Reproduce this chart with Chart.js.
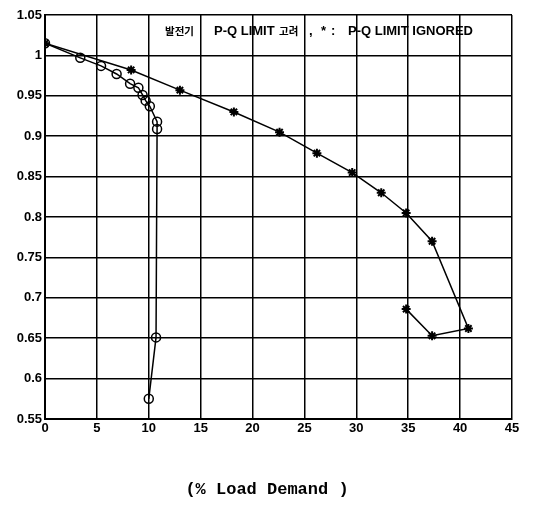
<!DOCTYPE html>
<html>
<head>
<meta charset="utf-8">
<script src="https://cdn.jsdelivr.net/npm/chart.js@4.4.0/dist/chart.umd.min.js"></script>
<style>
  html, body { margin: 0; padding: 0; background: #fff; }
  #wrap { width: 540px; height: 521px; }
</style>
</head>
<body>
<div id="wrap"><canvas id="chart" width="540" height="521"></canvas></div>
<script>
/* ─── data ───────────────────────────────────────────────────── */
const X_TICKS = [0, 5, 10, 15, 20, 25, 30, 35, 40, 45];
const Y_TICKS = [0.55, 0.6, 0.65, 0.7, 0.75, 0.8, 0.85, 0.9, 0.95, 1, 1.05];

// o : generator P-Q limit considered
const limitX = [0, 3.4, 5.4, 6.9, 8.2, 9.0, 9.4, 9.7, 10.1, 10.8, 10.8, 10.7, 10.0];
const limitY = [1.015, 0.997, 0.987, 0.977, 0.965, 0.960, 0.951, 0.944, 0.937, 0.918, 0.909, 0.651, 0.575];

// * : P-Q limit ignored
const ignoreX = [0, 8.3, 13.0, 18.2, 22.6, 26.2, 29.6, 32.4, 34.8, 37.3, 40.8, 37.3, 34.8];
const ignoreY = [1.015, 0.982, 0.957, 0.930, 0.905, 0.879, 0.855, 0.830, 0.805, 0.770, 0.662, 0.653, 0.686];

const NOTE_PARTS = [
  { text: '발전기',   font: 'bold 10.5px "Noto Sans CJK KR"', x: 165 },
  { text: 'P-Q LIMIT', font: 'bold 13px "Liberation Sans"',  x: 214 },
  { text: '고려',     font: 'bold 10.5px "Noto Sans CJK KR"', x: 279 },
  { text: ',',         font: 'bold 13px "Liberation Sans"',  x: 309 },
  { text: '*',         font: 'bold 13px "Liberation Sans"',  x: 321 },
  { text: ':',         font: 'bold 13px "Liberation Sans"',  x: 331 },
  { text: 'P-Q LIMIT IGNORED', font: 'bold 13px "Liberation Sans"', x: 348 },
];
const X_TITLE = '(% Load Demand )';

const pts = (xs, ys) => xs.map((x, i) => ({ x, y: ys[i] }));

// text that sits on top of the plot, plus the x caption
const textPlugin = {
  id: 'scanText',
  afterDraw(chart) {
    const { ctx } = chart;
    ctx.save();
    ctx.fillStyle = '#000';
    ctx.textBaseline = 'middle';
    ctx.textAlign = 'left';
    NOTE_PARTS.forEach(p => {
      ctx.font = p.font;
      ctx.fillText(p.text, p.x, 31);
    });
    ctx.font = 'bold 17px "Liberation Mono"';
    ctx.textAlign = 'center';
    ctx.fillText(X_TITLE, 267, 490);
    ctx.restore();
  },
};

const TICK_FONT = { family: '"Liberation Sans", Arial, sans-serif', size: 13, weight: 'bold' };
const GRID = { color: '#000', lineWidth: 1.5, drawTicks: false };

new Chart(document.getElementById('chart').getContext('2d'), {
  type: 'scatter',
  data: {
    datasets: [
      {
        label: 'P-Q LIMIT 고려',
        data: pts(limitX, limitY),
        showLine: true,
        borderColor: '#000',
        borderWidth: 1.5,
        backgroundColor: 'transparent',
        pointStyle: 'circle',
        pointRadius: 4.5,
        pointBorderWidth: 1.5,
        pointBorderColor: '#000',
        pointBackgroundColor: 'transparent',
      },
      {
        label: 'P-Q LIMIT IGNORED',
        data: pts(ignoreX, ignoreY),
        showLine: true,
        borderColor: '#000',
        borderWidth: 1.5,
        backgroundColor: '#000',
        pointStyle: 'star',
        pointRadius: 4.5,
        pointBorderWidth: 2,
        pointBorderColor: '#000',
      },
    ],
  },
  options: {
    responsive: false,
    animation: false,
    layout: { padding: { top: 15, right: 28, bottom: 0, left: 0 } },
    plugins: { legend: { display: false }, tooltip: { enabled: false } },
    scales: {
      x: {
        type: 'linear',
        min: 0, max: 45,
        afterBuildTicks: s => { s.ticks = X_TICKS.map(v => ({ value: v })); },
        afterFit: s => { s.height = 102; },
        grid: GRID,
        border: { display: true, color: '#000', width: 2 },
        ticks: { color: '#000', font: TICK_FONT, padding: 2, maxRotation: 0, callback: v => String(v) },
      },
      y: {
        type: 'linear',
        min: 0.55, max: 1.05,
        afterBuildTicks: s => { s.ticks = Y_TICKS.map(v => ({ value: v })); },
        afterFit: s => { s.width = 45; },
        grid: GRID,
        border: { display: true, color: '#000', width: 2 },
        ticks: { color: '#000', font: TICK_FONT, padding: 3, callback: v => String(+v.toFixed(2)) },
      },
    },
  },
  plugins: [textPlugin],
});
</script>
</body>
</html>
